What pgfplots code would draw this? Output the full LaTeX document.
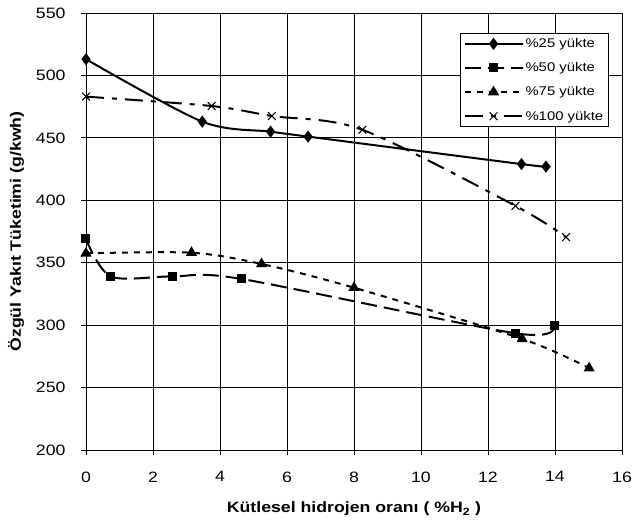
\documentclass[border=0pt]{standalone}
\usepackage{pgfplots}
\pgfplotsset{compat=1.18}
\usepackage{fontspec}
\setmainfont{Liberation Sans}[FakeStretch=1.18]

\begin{document}
\begin{tikzpicture}
\begin{axis}[
    scale only axis,
    width=536pt, height=437pt,
    xmin=0, xmax=16, ymin=200, ymax=550,
    xtick={0,2,...,16},
    ytick={200,250,...,550},
    grid=major,
    grid style={black, line width=0.8pt},
    axis line style={black, line width=0.8pt},
    tick style={black, line width=0.8pt},
    tick align=outside,
    major tick length=5pt,
    xtick pos=bottom, ytick pos=left,
    /pgf/number format/assume math mode=true,
    tick label style={font=\fontsize{15}{18}\selectfont},
    xticklabel style={yshift=-13pt},
    yticklabel style={xshift=-12pt},
    every axis x label/.style={at={(axis description cs:0.5,-0.135)}, anchor=center,
        font=\fontsize{15}{18}\selectfont\bfseries},
    every axis y label/.style={at={(axis description cs:-0.1306,0.5)}, rotate=90, anchor=center,
        font=\fontsize{15}{18}\selectfont\bfseries},
    xlabel={Kütlesel hidrojen oranı ( \%H\textsubscript{2} )},
    ylabel={Özgül Yakıt Tüketimi (g/kwh)},
    legend style={at={(rel axis cs:0.698,0.954)}, anchor=north west,
        draw=black, line width=0.8pt, fill=white, font=\fontsize{12.6}{15}\selectfont,
        row sep=9.5pt, inner sep=3pt},
    legend cell align=left,
    legend image code/.code={
        \draw[#1, mark repeat=2, mark phase=2] plot coordinates {(0pt,0pt) (29pt,0pt) (58pt,0pt)};
    },
    every axis plot/.append style={line width=2pt, smooth},
]
\addplot[black, solid, mark=diamond*, mark size=4.5pt, mark options={solid}]
    coordinates {(0,513) (3.47,463) (5.51,455) (6.63,451) (13.0,429) (13.73,427)};
\addlegendentry{\%25 yükte}
\addplot[black, dash pattern=on 16pt off 7pt, mark=square*, mark size=3.5pt, mark options={solid}]
    coordinates {(0,369) (0.74,339) (2.58,339) (4.64,337) (12.82,293.5) (13.98,299.5)};
\addlegendentry{\%50 yükte}
\addplot[black, dash pattern=on 6pt off 6pt, mark=triangle*, mark size=4.5pt, mark options={solid}]
    coordinates {(0,357.5) (3.15,358) (5.24,349) (8.0,330) (13.02,289) (15.02,265.5)};
\addlegendentry{\%75 yükte}
\addplot[black, dash pattern=on 18pt off 8pt on 5pt off 8pt, mark=x, mark size=5.5pt, mark options={solid, line width=1pt}]
    coordinates {(0,483) (3.75,475.5) (5.55,467.5) (8.25,456.5) (12.82,395.5) (14.33,370.5)};
\addlegendentry{\%100 yükte}
\end{axis}
\pgfresetboundingbox
\path (-86pt,-70pt) rectangle (546pt,450pt);
\end{tikzpicture}
\end{document}
